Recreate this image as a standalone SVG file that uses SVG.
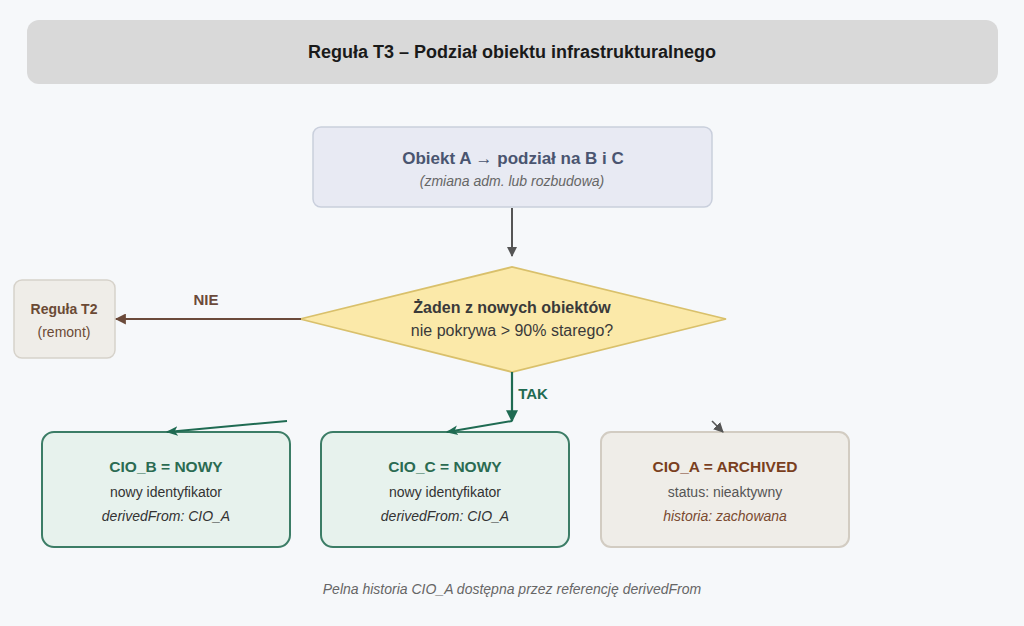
<svg xmlns="http://www.w3.org/2000/svg" width="1024" height="626" viewBox="0 0 1024 626">
<defs>
<marker id="ahGray" viewBox="0 0 10 10" refX="9" refY="5" markerWidth="10" markerHeight="10" markerUnits="userSpaceOnUse" orient="auto"><path d="M0,0 L10,5 L0,10 z" fill="#555"/></marker>
<marker id="ahBrown" viewBox="0 0 10 10" refX="9" refY="5" markerWidth="11" markerHeight="11" markerUnits="userSpaceOnUse" orient="auto"><path d="M0,0 L10,5 L0,10 z" fill="#6b4a3a"/></marker>
<marker id="ahGreen" viewBox="0 0 10 10" refX="9" refY="5" markerWidth="12" markerHeight="12" markerUnits="userSpaceOnUse" orient="auto"><path d="M0,0 L10,5 L0,10 z" fill="#1f6b52"/></marker>
<marker id="ahGreenS" viewBox="0 0 10 10" refX="9" refY="5" markerWidth="12" markerHeight="12" markerUnits="userSpaceOnUse" orient="auto"><path d="M0,1 L10,5 L0,9 L2.5,5 z" fill="#1f6b52"/></marker>
</defs>
<style>
text{font-family:"Liberation Sans",Arial,sans-serif;text-anchor:middle}
.b{font-weight:bold}
.i{font-style:italic}
.green rect{fill:#e7f2ed;stroke:#3c7d66;stroke-width:2}
.gt{fill:#2b6b52;font-size:15.5px;font-weight:bold}
.body{fill:#333;font-size:14px}
</style>
<rect x="0" y="0" width="1024" height="626" fill="#f6f8fa"/>
<g id="title">
<rect x="27" y="20" width="971" height="64" rx="12" fill="#d9d9d9"/>
<text x="512" y="58" class="b" font-size="18" fill="#1a1a1a">Reguła T3 – Podział obiektu infrastrukturalnego</text>
</g>
<g id="nodeStart">
<rect x="313" y="127" width="399" height="80" rx="8" fill="#e8eaf3" stroke="#c9cfdc" stroke-width="1.5"/>
<text x="513" y="164" class="b" font-size="17" fill="#4a5570">Obiekt A → podział na B i C</text>
<text x="512" y="186" class="i" font-size="14" fill="#666">(zmiana adm. lub rozbudowa)</text>
</g>
<g id="nodeDecision">
<polygon points="300,319 512,267 726,319 512,372" fill="#fbe9a9" stroke="#d9c06b" stroke-width="1.8"/>
<text x="512" y="313" class="b" font-size="16" fill="#3a3a3a">Żaden z nowych obiektów</text>
<text x="512" y="336" font-size="16" fill="#3a3a3a">nie pokrywa &gt; 90% starego?</text>
</g>
<g id="nodeT2">
<rect x="14" y="280" width="101" height="78" rx="8" fill="#efede8" stroke="#d6d2ca" stroke-width="1.5"/>
<text x="64" y="314" class="b" font-size="14" fill="#6b4a35">Reguła T2</text>
<text x="64" y="337" font-size="14" fill="#6b4a35">(remont)</text>
</g>
<g id="nodeB" class="green">
<rect x="42" y="432" width="248" height="115" rx="12"/>
<text x="166" y="472" class="gt">CIO_B = NOWY</text>
<text x="166" y="497" class="body">nowy identyfikator</text>
<text x="166" y="521" class="body i">derivedFrom: CIO_A</text>
</g>
<g id="nodeC" class="green">
<rect x="321" y="432" width="248" height="115" rx="12"/>
<text x="445" y="472" class="gt">CIO_C = NOWY</text>
<text x="445" y="497" class="body">nowy identyfikator</text>
<text x="445" y="521" class="body i">derivedFrom: CIO_A</text>
</g>
<g id="nodeA">
<rect x="601" y="432" width="248" height="115" rx="10" fill="#efede8" stroke="#d2ccc2" stroke-width="2"/>
<text x="725" y="472" class="b" font-size="15.5" fill="#7a3f1e">CIO_A = ARCHIVED</text>
<text x="725" y="497" font-size="14" fill="#555">status: nieaktywny</text>
<text x="725" y="521" class="i" font-size="14" fill="#7a4a30">historia: zachowana</text>
</g>
<g id="connectors" fill="none">
<line x1="512" y1="208" x2="512" y2="256" stroke="#555" stroke-width="2" marker-end="url(#ahGray)"/>
<line x1="301" y1="319" x2="116" y2="319" stroke="#6b4a3a" stroke-width="2.2" marker-end="url(#ahBrown)"/>
<text x="206" y="305" class="b" font-size="15" fill="#6b4a3a" stroke="none">NIE</text>
<line x1="512" y1="372" x2="512" y2="421" stroke="#1f6b52" stroke-width="2.2" marker-end="url(#ahGreen)"/>
<text x="533" y="399" class="b" font-size="15" fill="#1f6b52" stroke="none">TAK</text>
<line x1="512" y1="421" x2="447" y2="432" stroke="#1f6b52" stroke-width="2" marker-end="url(#ahGreenS)"/>
<line x1="287" y1="421" x2="167" y2="432" stroke="#1f6b52" stroke-width="2" marker-end="url(#ahGreenS)"/>
<line x1="712" y1="421" x2="723" y2="432" stroke="#555" stroke-width="1.6" marker-end="url(#ahGray)"/>
</g>
<g id="footer">
<text x="512" y="594" class="i" font-size="14" fill="#666">Pelna historia CIO_A dostępna przez referencję derivedFrom</text>
</g>
</svg>
